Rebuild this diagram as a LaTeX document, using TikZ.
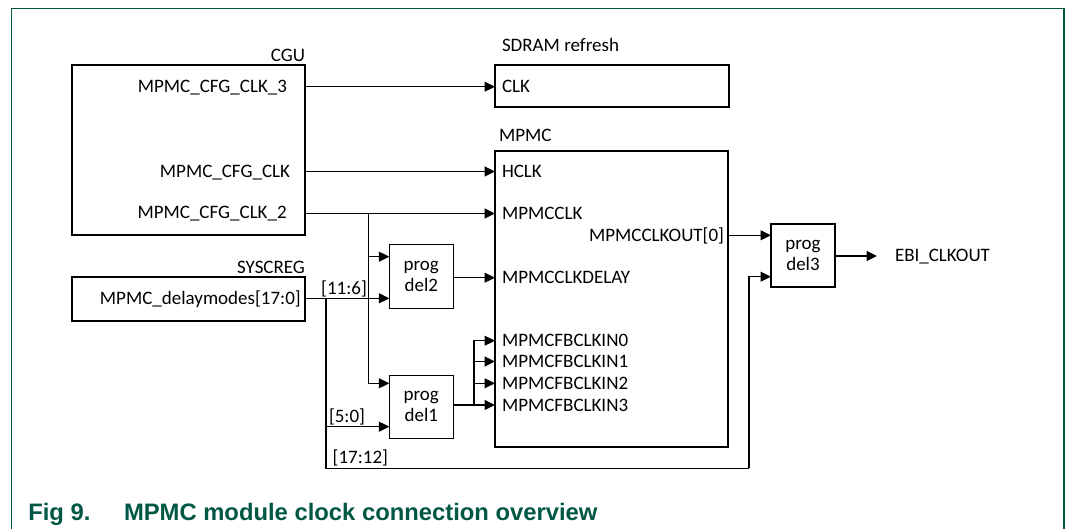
\documentclass[tikz,border=0pt]{standalone}
\usepackage{fontspec}
\setmainfont{Carlito}
\newfontfamily\capfont{Liberation Sans}
\usetikzlibrary{arrows.meta}
\definecolor{nxpgreen}{RGB}{0,87,68}
\begin{document}
\begin{tikzpicture}[x=1pt,y=-1pt,
  every node/.style={inner sep=0pt,outer sep=0pt},
  lbl/.style={font=\fontsize{19}{21}\selectfont,text height=12.2pt,text depth=0pt},
  bigbox/.style={draw,line width=2.4pt},
  delbox/.style={draw,line width=1.1pt,minimum width=64pt,minimum height=63pt,font=\fontsize{19}{21}\selectfont,align=center},
  wire/.style={line width=1.1pt},
  arr/.style={wire,-{Triangle[length=10.5pt,width=10pt]}},
  frameline/.style={draw=nxpgreen,line width=1.3pt},
  captxt/.style={anchor=base west,font=\capfont\bfseries\fontsize{23.8}{26}\selectfont,text=nxpgreen}]
\useasboundingbox (0,0) rectangle (1066,529);
\draw[frameline] (11.3,540) -- (11.3,8.3) -- (1064,8.3) -- (1064,540);

% CGU
\node[bigbox,minimum width=233pt,minimum height=170pt,anchor=north west] (cgu) at (72,65) {};
\node[lbl,anchor=east] (cgut) at (305,55) {CGU};
\node[lbl,anchor=east] (p3) at (287,86.7) {MPMC\_CFG\_CLK\_3};
\node[lbl,anchor=east] (p1) at (290,171.5) {MPMC\_CFG\_CLK};
\node[lbl,anchor=east] (p2) at (286.7,212.5) {MPMC\_CFG\_CLK\_2};

% SYSCREG
\node[bigbox,minimum width=233pt,minimum height=44pt,anchor=north west] (sys) at (72,277.3) {};
\node[lbl,anchor=east] (syst) at (305,267) {SYSCREG};
\node[lbl,anchor=east] (dm) at (300.7,298.3) {MPMC\_delaymodes[17:0]};

% SDRAM refresh
\node[bigbox,minimum width=234pt,minimum height=42pt,anchor=north west] (sdram) at (495,65) {};
\node[lbl,anchor=west] (sdramt) at (502,45) {SDRAM refresh};
\node[lbl,anchor=west] (clk) at (502,86.7) {CLK};

% MPMC
\node[bigbox,minimum width=233pt,minimum height=296pt,anchor=north west] (mpmc) at (495,151) {};
\node[lbl,anchor=west] (mpmct) at (499,135) {MPMC};
\node[lbl,anchor=west] (hclk) at (502,171.5) {HCLK};
\node[lbl,anchor=west] (mclk) at (502,213.5) {MPMCCLK};
\node[lbl,anchor=west] (dly) at (502,277.7) {MPMCCLKDELAY};
\node[lbl,anchor=west] (fb0) at (502,340.7) {MPMCFBCLKIN0};
\node[lbl,anchor=west] (fb1) at (502,361.5) {MPMCFBCLKIN1};
\node[lbl,anchor=west] (fb2) at (502,383.3) {MPMCFBCLKIN2};
\node[lbl,anchor=west] (fb3) at (502,405) {MPMCFBCLKIN3};
\node[lbl,anchor=east] (co) at (724,235.3) {MPMCCLKOUT[0]};

% delay elements
\node[delbox,minimum height=64pt] (del2) at (421.3,276.3) {prog\\del2};
\node[delbox] (del1) at (421.3,406.8) {prog\\del1};
\node[delbox] (del3) at (803,255.5) {prog\\del3};

\node[lbl,anchor=west] (ebi) at (895,255.5) {EBI\_CLKOUT};

% bit-field labels
\node[lbl] (b116) at (344,288.3) {[11:6]};
\node[lbl] (b50) at (347,416.7) {[5:0]};
\node[lbl,anchor=west] (b1712) at (332.7,457.3) {[17:12]};

% junctions and pins
\coordinate (j1) at (368.3,213.5);
\coordinate (j2) at (326,298.3);
\coordinate (j3) at (474,405);
\coordinate (jb) at (326,468.3);
\coordinate (j4) at (749,468.3);
\coordinate (d2in1) at (389.3,256.7);
\coordinate (d2in2) at (389.3,298.3);
\coordinate (d1in1) at (389.3,383.3);
\coordinate (d1in2) at (389.3,426.7);
\coordinate (d3in2) at (771,276.7);
\coordinate (eout) at (877,256);

% connectors
\draw[arr] (cgu.east |- p3) -- (sdram.west |- p3);
\draw[arr] (cgu.east |- p1) -- (mpmc.west |- p1);
\draw[arr] (cgu.east |- j1) -- (mpmc.west |- j1);
\draw[arr] (j1) |- (d1in1);
\draw[arr] (j1 |- d2in1) -- (d2in1);
\draw[arr] (sys.east |- j2) -- (d2in2);
\draw[wire] (j2) -- (jb) -- (j4);
\draw[arr] (j4) |- (d3in2);
\draw[arr] (j2 |- d1in2) -- (d1in2);
\draw[arr] (del2.east |- dly) -- (mpmc.west |- dly);
\draw[wire] (del1.east |- j3) -- (j3);
\draw[arr] (j3) |- (mpmc.west |- fb0);
\draw[arr] (j3 |- fb1) -- (mpmc.west |- fb1);
\draw[arr] (j3 |- fb2) -- (mpmc.west |- fb2);
\draw[arr] (j3) -- (mpmc.west |- j3);
\draw[arr] (mpmc.east |- co) -- (del3.west |- co);
\draw[arr] (del3.east |- eout) -- (eout);

% caption
\node[captxt] (fig) at (28.3,520.7) {Fig 9.};
\node[captxt] (cap) at (124,520.7) {MPMC module clock connection overview};
\end{tikzpicture}
\end{document}
